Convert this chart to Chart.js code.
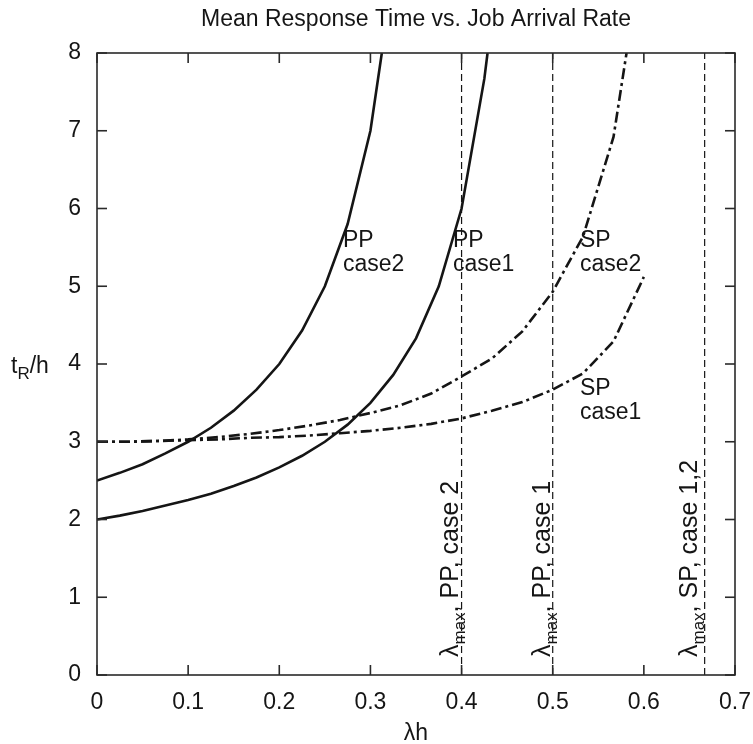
<!DOCTYPE html>
<html><head><meta charset="utf-8">
<script src="https://cdn.jsdelivr.net/npm/chart.js@4"></script>
<style>html,body{margin:0;padding:0;background:#fff}canvas{display:block}</style>
</head><body>
<canvas id="c" width="753" height="744"></canvas>
<script>
// ---- data ----
const titleText = 'Mean Response Time vs. Job Arrival Rate';
const xTickLabels = ['0','0.1','0.2','0.3','0.4','0.5','0.6','0.7'];
const xTickValues = [0,0.1,0.2,0.3,0.4,0.5,0.6,0.7];
const yTickLabels = ['0','1','2','3','4','5','6','7','8'];
const yTickValues = [0,1,2,3,4,5,6,7,8];

const ppCase2X = [0,0.025,0.05,0.075,0.1,0.125,0.15,0.175,0.2,0.225,0.25,0.275,0.3,0.3125];
const ppCase2Y = [2.5,2.6,2.71,2.85,3.0,3.18,3.4,3.67,4.0,4.43,5.0,5.8,7.0,8.0];

const ppCase1X = [0,0.025,0.05,0.075,0.1,0.125,0.15,0.175,0.2,0.225,0.25,0.275,0.3,0.325,0.35,0.375,0.4,0.425,0.4285];
const ppCase1Y = [2.0,2.05,2.11,2.18,2.25,2.33,2.43,2.54,2.67,2.82,3.0,3.22,3.5,3.86,4.33,5.0,6.0,7.67,8.0];

const spCase1X = [0,0.0333,0.0667,0.1,0.1333,0.1667,0.2,0.2333,0.2667,0.3,0.3333,0.3667,0.4,0.4333,0.4667,0.5,0.5333,0.5667,0.6];
const spCase1Y = [3.0,3.0,3.01,3.02,3.03,3.05,3.06,3.08,3.11,3.14,3.18,3.23,3.30,3.40,3.51,3.67,3.88,4.29,5.12];

const spCase2X = [0,0.0333,0.0667,0.1,0.1333,0.1667,0.2,0.2333,0.2667,0.3,0.3333,0.3667,0.4,0.4333,0.4667,0.5,0.5333,0.5667,0.581];
const spCase2Y = [3.0,3.0,3.01,3.03,3.06,3.10,3.15,3.21,3.28,3.37,3.47,3.62,3.84,4.07,4.42,4.93,5.64,6.92,8.0];

const lambdaMaxValues = [0.4, 0.5, 0.6667];
const lambdaMaxTexts = ['PP, case 2', 'PP, case 1', 'SP, case 1,2'];

const curveLabels = [['PP','case2'],['PP','case1'],['SP','case2'],['SP','case1']];

// ---- styling / layout ----
const FONT = '"Liberation Sans", Arial, Helvetica, sans-serif';
const INK = '#151515';
const labelPos = [[343,247],[453,247],[580,247],[580,395]];
const rotOffsets = [4, 3, 8];

function pts(xs, ys){ return xs.map((v,i)=>({x:v, y:ys[i]})); }

const solid = {borderColor:INK, borderWidth:2.6, pointRadius:0, tension:0, fill:false};
const dashDot = {borderColor:INK, borderWidth:2.6, pointRadius:0, tension:0, fill:false, borderDash:[11,4,3,4]};
const vDash = {borderColor:INK, borderWidth:1.2, pointRadius:0, tension:0, fill:false, borderDash:[7,4]};

const datasets = [
  Object.assign({label:'PP case2', data:pts(ppCase2X, ppCase2Y)}, solid),
  Object.assign({label:'PP case1', data:pts(ppCase1X, ppCase1Y)}, solid),
  Object.assign({label:'SP case2', data:pts(spCase2X, spCase2Y)}, dashDot),
  Object.assign({label:'SP case1', data:pts(spCase1X, spCase1Y)}, dashDot),
];
lambdaMaxValues.forEach((v,i)=>{
  datasets.push(Object.assign({label:'lambda max '+i, data:[{x:v,y:0},{x:v,y:8}]}, vDash));
});

const decor = {
  id:'decor',
  afterDraw(chart){
    const {ctx, chartArea:a, scales:{x, y}} = chart;
    ctx.save();
    ctx.setLineDash([]);
    ctx.strokeStyle = '#2a2a2a';
    ctx.lineWidth = 1.6;
    ctx.strokeRect(a.left, a.top, a.right - a.left, a.bottom - a.top);
    const L = (x1,y1,x2,y2)=>{ctx.beginPath();ctx.moveTo(x1,y1);ctx.lineTo(x2,y2);ctx.stroke();};
    xTickValues.forEach(v=>{
      const p = x.getPixelForValue(v);
      L(p, a.bottom, p, a.bottom - 10);
      L(p, a.top, p, a.top + 10);
    });
    yTickValues.forEach(v=>{
      const p = y.getPixelForValue(v);
      L(a.left, p, a.left + 10, p);
      L(a.right, p, a.right - 10, p);
    });

    ctx.fillStyle = INK;
    // tick labels
    ctx.font = '23px ' + FONT;
    ctx.textAlign = 'center'; ctx.textBaseline = 'alphabetic';
    xTickValues.forEach((v,i)=>{ ctx.fillText(xTickLabels[i], x.getPixelForValue(v), a.bottom + 34); });
    ctx.textAlign = 'right'; ctx.textBaseline = 'middle';
    yTickValues.forEach((v,i)=>{ ctx.fillText(yTickLabels[i], a.left - 16, y.getPixelForValue(v)); });

    // title
    ctx.textAlign = 'center'; ctx.textBaseline = 'alphabetic';
    ctx.font = '23px ' + FONT;
    ctx.fillText(titleText, (a.left + a.right)/2, 26);

    // x axis title  λh
    ctx.font = '23px ' + FONT;
    ctx.fillText('\u03BBh', (a.left + a.right)/2, 740);

    // y axis title t_R/h
    ctx.textAlign = 'left';
    let yx = 11, yb = 373;
    ctx.font = '23px ' + FONT;
    ctx.fillText('t', yx, yb); yx += ctx.measureText('t').width;
    ctx.font = '17px ' + FONT;
    ctx.fillText('R', yx, yb + 6); yx += ctx.measureText('R').width;
    ctx.font = '23px ' + FONT;
    ctx.fillText('/h', yx, yb);

    // curve labels
    ctx.font = '23px ' + FONT;
    curveLabels.forEach((lines,i)=>{
      const [px, py] = labelPos[i];
      lines.forEach((t,j)=>ctx.fillText(t, px, py + j*24));
    });

    // rotated lambda_max labels
    lambdaMaxValues.forEach((v,i)=>{
      const px = x.getPixelForValue(v) - rotOffsets[i];
      ctx.save();
      ctx.translate(px, 657);
      ctx.rotate(-Math.PI/2);
      ctx.textAlign = 'left'; ctx.textBaseline = 'alphabetic';
      let w = 0;
      ctx.font = '25px ' + FONT;
      ctx.fillText('\u03BB', w, 0); w += ctx.measureText('\u03BB').width;
      ctx.font = '17px ' + FONT;
      ctx.fillText('max', w, 7); w += ctx.measureText('max').width;
      ctx.font = '25px ' + FONT;
      ctx.fillText(', ' + lambdaMaxTexts[i], w, 0);
      ctx.restore();
    });
    ctx.restore();
  }
};

new Chart(document.getElementById('c'), {
  type:'line',
  data:{datasets},
  options:{
    responsive:false,
    animation:false,
    devicePixelRatio:1,
    layout:{padding:{left:97, right:18, top:53, bottom:69}},
    plugins:{legend:{display:false}, title:{display:false}, tooltip:{enabled:false}},
    scales:{
      x:{type:'linear', min:0, max:0.7, display:false},
      y:{type:'linear', min:0, max:8, display:false}
    }
  },
  plugins:[decor]
});
</script>
</body></html>
